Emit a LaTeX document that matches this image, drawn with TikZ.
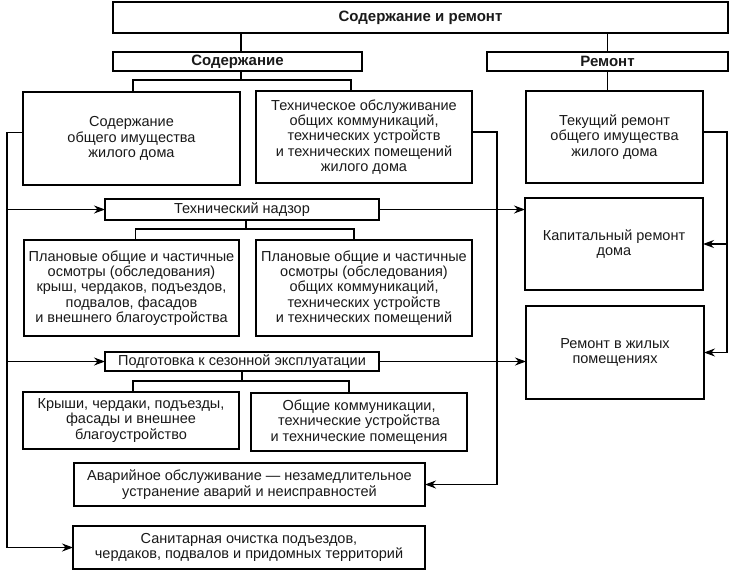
\documentclass[tikz,border=0pt]{standalone}
\usepackage{fontspec}
\setmainfont{Liberation Sans}
\usetikzlibrary{arrows.meta,calc}
\newcommand\mkbox[7][]{\node[box,#1,minimum width={#5-#3},minimum height={#6-#4}] (#2) at (#3,#4) {#7};}
\begin{document}
\begin{tikzpicture}[x=1pt,y=-1pt,
  box/.style={draw,line width=1.1pt,inner sep=0pt,outer sep=0pt,align=center,
    font=\fontsize{14.5}{15.3}\selectfont,anchor=north west,text=black!90},
  hdr/.style={font=\fontsize{15}{15}\selectfont\bfseries},
  ln/.style={line width=1.1pt},
  arr/.style={line width=1.1pt,-{Stealth[length=11pt,width=8pt]}}]
\useasboundingbox (0,0) rectangle (738,570);
\mkbox[hdr]{top}{113}{2}{728}{33}{Содержание и ремонт}
\mkbox[hdr]{sod}{113}{52}{362}{71}{Содержание}
\mkbox[hdr]{rem}{487}{52}{728}{71}{Ремонт}
\mkbox{obsh}{23}{92}{240}{185}{Содержание\\общего имущества\\жилого дома}
\mkbox{tech}{256}{91}{472}{183}{Техническое обслуживание\\общих коммуникаций,\\технических устройств\\и технических помещений\\жилого дома}
\mkbox{tek}{526}{91}{703}{183}{Текущий ремонт\\общего имущества\\жилого дома}
\mkbox{nadzor}{105}{199}{379}{220}{Технический надзор}
\mkbox{kap}{525}{198}{703}{290}{Капитальный ремонт\\дома}
\mkbox{plan1}{24}{240}{239}{336}{Плановые общие и частичные\\осмотры (обследования)\\крыш, чердаков, подъездов,\\подвалов, фасадов\\и внешнего благоустройства}
\mkbox{plan2}{256}{240}{472}{336}{Плановые общие и частичные\\осмотры (обследования)\\общих коммуникаций,\\технических устройств\\и технических помещений}
\mkbox{rzh}{526}{306}{704}{399}{Ремонт в жилых\\помещениях}
\mkbox{podg}{105}{352}{379}{371}{Подготовка к сезонной эксплуатации}
\mkbox{krysh}{23}{392}{239}{449}{Крыши, чердаки, подъезды,\\фасады и внешнее\\благоустройство}
\mkbox{komm}{251}{393}{467}{451}{Общие коммуникации,\\технические устройства\\и технические помещения}
\mkbox{avar}{74}{463}{425}{506}{Аварийное обслуживание — незамедлительное\\устранение аварий и неисправностей}
\mkbox{san}{73}{526}{425}{569}{Санитарная очистка подъездов,\\чердаков, подвалов и придомных территорий}
% top level
\draw[ln] ($(sod.north)+(3.5,0)$) -- ($(sod.north |- top.south)+(3.5,0)$);
\draw[ln] (rem.north) -- (rem.north |- top.south);
% Содержание branch
\draw[ln] ($(sod.south)+(3.5,0)$) -- ++(0,9) coordinate (j1);
\draw[ln] ($(obsh.north)+(1.5,0)$) |- (j1) -| ($(tech.north)+(-13,0)$);
\draw[ln] (rem.south) -- (rem.south |- tek.north);
% Технический надзор branch
\draw[ln] ($(nadzor.south)+(4,0)$) -- ++(0,9) coordinate (j2);
\draw[ln] ($(plan1.north)+(4,0)$) |- (j2) -| ($(plan2.north)+(-10,0)$);
% Подготовка branch
\draw[ln] (podg.south) -- ++(0,10) coordinate (j3);
\draw[ln] ($(krysh.north)+(2,0)$) |- (j3) -| ($(komm.north)+(-10,0)$);
% left bus
\coordinate (L1) at ($(obsh.west)+(0,-6)$);
\coordinate (bus) at (7,0);
\draw[arr] (L1) -- (L1 -| bus) |- (san.west);
\draw[arr] (nadzor.west -| bus) -- (nadzor.west);
\draw[arr] (podg.west -| bus) -- (podg.west);
% middle bus
\coordinate (R1) at ($(tech.east)+(0,-5)$);
\coordinate (mbus) at (497,0);
\draw[arr] (R1) -- (R1 -| mbus) |- (avar.east);
\draw[arr] (nadzor.east) -- (nadzor.east -| kap.west);
\draw[arr] (podg.east) -- (podg.east -| rzh.west);
% right bus
\coordinate (T1) at ($(tek.east)+(0,-5)$);
\coordinate (rbus) at (727,0);
\draw[arr] (T1) -- (T1 -| rbus) |- (rzh.east);
\draw[arr] (kap.east -| rbus) -- (kap.east);
\end{tikzpicture}
\end{document}
